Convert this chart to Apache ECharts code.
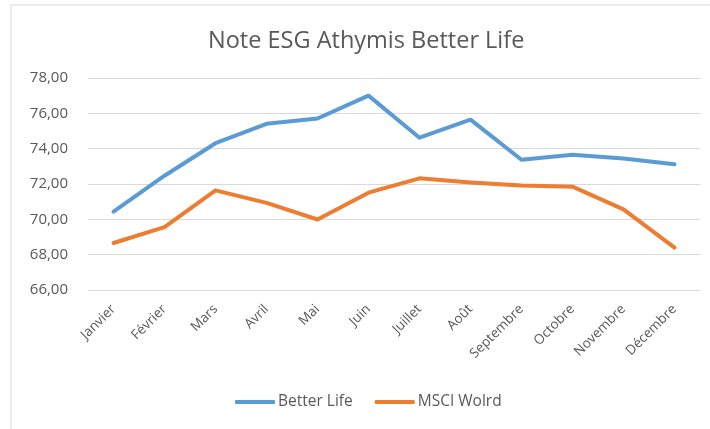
<!DOCTYPE html>
<html>
<head>
<meta charset="utf-8">
<script src="https://cdn.jsdelivr.net/npm/echarts@6/dist/echarts.min.js"></script>
<style>html,body{margin:0;padding:0;background:#fff;}#c{width:710px;height:429px;}</style>
</head>
<body>
<div id="c"></div>
<script>
const months = ['Janvier','Février','Mars','Avril','Mai','Juin','Juillet','Août','Septembre','Octobre','Novembre','Décembre'];
const betterLife = [70.44, 72.47, 74.31, 75.41, 75.71, 77.00, 74.62, 75.64, 73.37, 73.65, 73.44, 73.12];
const msciWorld = [68.66, 69.56, 71.64, 70.93, 69.99, 71.51, 72.32, 72.09, 71.92, 71.85, 70.56, 68.40];
const seriesNames = ['Better Life', 'MSCI Wolrd'];
const titleText = 'Note ESG Athymis Better Life';

const font = '"Open Sans", "Noto Sans", sans-serif';
const chart = echarts.init(document.getElementById('c'), null, {renderer: 'canvas'});
chart.setOption({
  animation: false,
  backgroundColor: '#fff',
  title: {
    text: titleText, left: 203, top: 24,
    textStyle: {fontFamily: font, fontSize: 23.5, fontWeight: 'normal', color: '#595959'}
  },
  graphic: [
    {type: 'line', shape: {x1: 11, y1: 5, x2: 710, y2: 5}, style: {stroke: '#d9d9d9', lineWidth: 1}},
    {type: 'line', shape: {x1: 11, y1: 5, x2: 11, y2: 429}, style: {stroke: '#d9d9d9', lineWidth: 1}}
  ],
  legend: {
    bottom: 14, left: 230, itemGap: 22, itemWidth: 40, itemHeight: 4,
    icon: 'roundRect',
    textStyle: {fontFamily: font, fontSize: 15.5, color: '#595959', padding: [0, 0, 0, -2]},
    data: seriesNames
  },
  grid: {left: 88, right: 10, top: 78, bottom: 139},
  xAxis: {
    type: 'category', data: months, boundaryGap: true,
    axisLine: {show: false}, axisTick: {show: false},
    axisLabel: {rotate: 45, fontFamily: font, fontSize: 13.5, color: '#595959', margin: 17, interval: 0}
  },
  yAxis: {
    type: 'value', min: 66, max: 78, interval: 2,
    axisLine: {show: false}, axisTick: {show: false},
    splitLine: {lineStyle: {color: '#d9d9d9', width: 1}},
    axisLabel: {fontFamily: font, fontSize: 15, color: '#595959', margin: 20,
      formatter: v => v.toFixed(2).replace('.', ',')}
  },
  series: [
    {name: seriesNames[0], type: 'line', data: betterLife, symbol: 'none',
      lineStyle: {width: 4, color: '#5b9bd5', cap: 'round', join: 'round'}, itemStyle: {color: '#5b9bd5'}},
    {name: seriesNames[1], type: 'line', data: msciWorld, symbol: 'none',
      lineStyle: {width: 4, color: '#ed7d31', cap: 'round', join: 'round'}, itemStyle: {color: '#ed7d31'}}
  ]
});
</script>
</body>
</html>
